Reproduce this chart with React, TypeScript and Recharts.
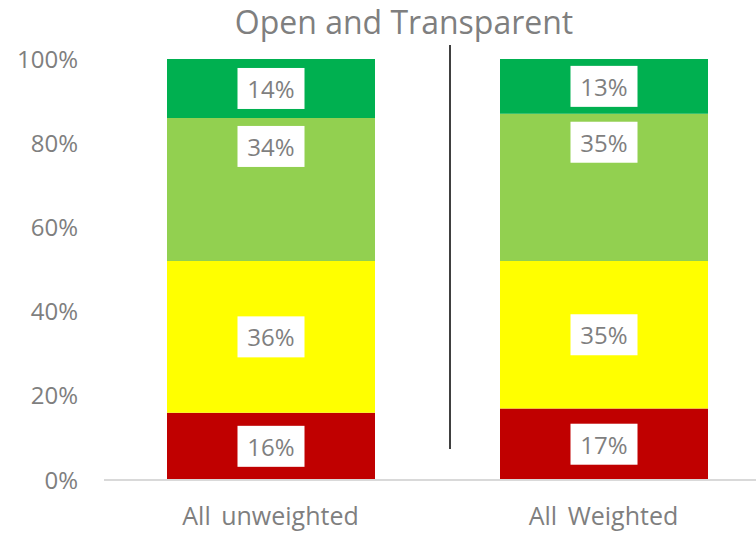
import React from 'react';
import { BarChart, Bar, XAxis, YAxis, LabelList } from 'recharts';

const categories = ['All unweighted', 'All Weighted'];
const red = [0.16, 0.17];
const yellow = [0.36, 0.35];
const lightGreen = [0.34, 0.35];
const green = [0.14, 0.13];
const yTicks = [0, 0.2, 0.4, 0.6, 0.8, 1];

const data = categories.map((name, i) => ({
  name, red: red[i], yellow: yellow[i], lightGreen: lightGreen[i], green: green[i],
}));

const FONT = '"Open Sans", sans-serif';
const GRAY = '#7f7f7f';

// white box with grey text, centred in the segment (or pinned near top)
const boxLabel = (atTop: boolean) => (props: any) => {
  const { x, y, width, height, value } = props;
  const w = 67, h = 41;
  const cx = x + width / 2;
  const top = atTop ? y + 8 : y + height / 2 - h / 2;
  return (
    <g>
      <rect x={cx - w / 2} y={top} width={w} height={h} fill="#fff" />
      <text x={cx} y={top + h / 2} textAnchor="middle" dominantBaseline="central"
        fill={GRAY} fontSize={24} fontFamily={FONT}>
        {Math.round(value * 100)}%
      </text>
    </g>
  );
};

const series = [
  { key: 'red', color: '#C00000', top: false },
  { key: 'yellow', color: '#FFFF00', top: false },
  { key: 'lightGreen', color: '#92D050', top: true },
  { key: 'green', color: '#00B050', top: false },
];

export default function App() {
  return (
    <div style={{ position: 'absolute', left: 0, top: 0, width: 756, height: 535, overflow: 'hidden', background: '#fff' }}>
      <div style={{
        position: 'absolute', left: 0, top: 0, width: 756, paddingLeft: 52, boxSizing: 'border-box',
        textAlign: 'center', fontFamily: FONT, fontSize: 32, color: GRAY, lineHeight: '44px',
      }}>
        Open and Transparent
      </div>
      <div style={{ position: 'absolute', left: 449, top: 45, width: 2, height: 404, background: '#404040' }} />
      <BarChart width={770} height={535} data={data} margin={{ top: 59, right: 0, bottom: 0, left: 0 }}
        barSize={208}>
        <XAxis dataKey="name" height={55} tickLine={false} axisLine={{ stroke: '#d9d9d9', strokeWidth: 2 }}
          tickSize={0} tickMargin={27}
          tick={{ fill: GRAY, fontSize: 25, fontFamily: FONT, style: { wordSpacing: 4 } }} />
        <YAxis width={104} domain={[0, 1]} ticks={yTicks} axisLine={false} tickLine={false}
          tickSize={0} tickMargin={26} tickFormatter={(v: number) => `${Math.round(v * 100)}%`}
          tick={{ fill: GRAY, fontSize: 24, fontFamily: FONT }} />
        {series.map(s => (
          <Bar key={s.key} dataKey={s.key} stackId="a" fill={s.color} isAnimationActive={false}>
            <LabelList dataKey={s.key} content={boxLabel(s.top)} />
          </Bar>
        ))}
      </BarChart>
    </div>
  );
}
